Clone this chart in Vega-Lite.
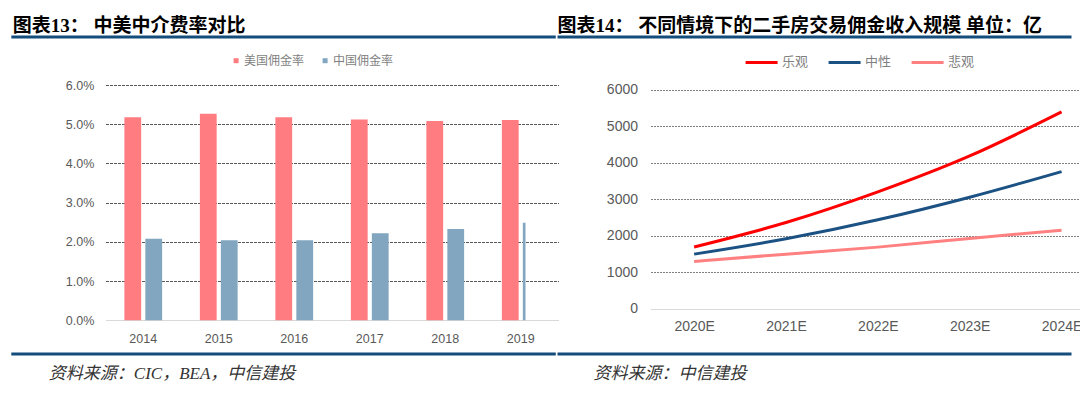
{
  "$schema": "https://vega.github.io/schema/vega-lite/v6.json",
  "background": "white",
  "padding": {"left": 9.5, "top": 16.5, "right": 0, "bottom": 0},
  "config": {"view": {"stroke": null}, "font": "Liberation Sans, Noto Sans CJK SC"},
  "spacing": 2.5,
  "resolve": {"scale": {"color": "independent", "x": "independent", "y": "independent"}, "legend": {"color": "independent"}},
  "vconcat": [
    {
      "spacing": -6,
      "resolve": {"scale": {"x": "independent"}},
      "hconcat": [
        {
          "width": 450.3, "height": 3,
          "data": {"values": [{"a0": 0, "a1": 1}]},
          "mark": {"type": "rule", "color": "#134D7C", "strokeWidth": 3},
          "encoding": {
            "x": {"field": "a0", "type": "quantitative", "scale": {"domain": [0, 1], "range": [-94.2, 450.3]}, "axis": null},
            "x2": {"field": "a1"}
          },
          "title": {"text": "图表13：  中美中介费率对比", "anchor": "start", "frame": "group", "orient": "top", "fontSize": 19, "font": "Liberation Serif, Noto Sans CJK SC", "fontWeight": "bold", "color": "#000000", "offset": 0, "dx": -92.7}
        },
        {
          "width": 514, "height": 3,
          "data": {"values": [{"b0": 0, "b1": 1}]},
          "mark": {"type": "rule", "color": "#134D7C", "strokeWidth": 3},
          "encoding": {
            "x": {"field": "b0", "type": "quantitative", "scale": {"domain": [0, 1], "range": [0, 514]}, "axis": null},
            "x2": {"field": "b1"}
          },
          "title": {"text": "图表14：  不同情境下的二手房交易佣金收入规模 单位：亿", "anchor": "start", "frame": "group", "orient": "top", "fontSize": 19, "font": "Liberation Serif, Noto Sans CJK SC", "fontWeight": "bold", "color": "#000000", "offset": 0}
        }
      ]
    },
    {
      "spacing": 0,
      "resolve": {"scale": {"color": "independent", "x": "independent", "y": "independent"}, "legend": {"color": "independent"}},
      "hconcat": [
        {
          "width": 420, "height": 235.4,
          "data": {"values": [
            {"year": "2014", "series": "美国佣金率", "rate": 0.0518},
            {"year": "2014", "series": "中国佣金率", "rate": 0.0208},
            {"year": "2015", "series": "美国佣金率", "rate": 0.0527},
            {"year": "2015", "series": "中国佣金率", "rate": 0.0204},
            {"year": "2016", "series": "美国佣金率", "rate": 0.0518},
            {"year": "2016", "series": "中国佣金率", "rate": 0.0204},
            {"year": "2017", "series": "美国佣金率", "rate": 0.0512},
            {"year": "2017", "series": "中国佣金率", "rate": 0.0222},
            {"year": "2018", "series": "美国佣金率", "rate": 0.0508},
            {"year": "2018", "series": "中国佣金率", "rate": 0.0233},
            {"year": "2019", "series": "美国佣金率", "rate": 0.0511},
            {"year": "2019", "series": "中国佣金率", "rate": 0.0249}
          ]},
          "mark": {"type": "bar", "clip": true},
          "encoding": {
            "x": {
              "field": "year", "type": "nominal",
              "scale": {"range": [0, 453], "paddingInner": 0, "paddingOuter": 0},
              "axis": {"title": null, "ticks": false, "domain": false, "grid": false, "labelAngle": 0, "labelFontSize": 12.5, "labelColor": "#595959", "labelPadding": 12, "labelFont": "Liberation Sans", "minExtent": 28.8}
            },
            "xOffset": {
              "field": "series", "sort": ["美国佣金率", "中国佣金率"],
              "scale": {"paddingInner": 0.2, "paddingOuter": 0.9}
            },
            "y": {
              "field": "rate", "type": "quantitative",
              "scale": {"domain": [0, 0.06]},
              "axis": {
                "title": null, "values": [0, 0.01, 0.02, 0.03, 0.04, 0.05, 0.06], "format": ".1%",
                "ticks": false, "domain": false, "labelFontSize": 12.5, "labelColor": "#595959", "labelPadding": 11.7, "labelFont": "Liberation Sans",
                "minExtent": 94.2,
                "gridColor": {"condition": {"test": "datum.value === 0", "value": "#D9D9D9"}, "value": "#595959"},
                "gridDash": {"condition": {"test": "datum.value === 0", "value": []}, "value": [3, 1]},
                "gridWidth": 1
              }
            },
            "color": {
              "field": "series", "type": "nominal",
              "scale": {"domain": ["美国佣金率", "中国佣金率"], "range": ["#FF7C80", "#82A6BF"]},
              "legend": {"orient": "none", "legendX": 124.6, "legendY": -30.3, "direction": "horizontal", "title": null, "padding": 0, "symbolType": "square", "symbolSize": 25, "symbolStrokeWidth": 0, "labelFontSize": 12, "labelColor": "#7F7F7F", "labelOffset": 2, "columnPadding": 14, "labelFont": "Liberation Sans, Noto Sans CJK SC"}
            }
          }
        },
        {
          "width": 418, "height": 223.7,
          "data": {"values": [
            {"year": "2020E", "scenario": "乐观", "value": 1690},
            {"year": "2021E", "scenario": "乐观", "value": 2360},
            {"year": "2022E", "scenario": "乐观", "value": 3200},
            {"year": "2023E", "scenario": "乐观", "value": 4185},
            {"year": "2024E", "scenario": "乐观", "value": 5390},
            {"year": "2020E", "scenario": "中性", "value": 1495},
            {"year": "2021E", "scenario": "中性", "value": 1915},
            {"year": "2022E", "scenario": "中性", "value": 2435},
            {"year": "2023E", "scenario": "中性", "value": 3055},
            {"year": "2024E", "scenario": "中性", "value": 3757},
            {"year": "2020E", "scenario": "悲观", "value": 1295},
            {"year": "2021E", "scenario": "悲观", "value": 1495},
            {"year": "2022E", "scenario": "悲观", "value": 1687},
            {"year": "2023E", "scenario": "悲观", "value": 1924},
            {"year": "2024E", "scenario": "悲观", "value": 2152}
          ]},
          "mark": {"type": "line", "interpolate": "monotone", "strokeWidth": 3},
          "encoding": {
            "x": {
              "field": "year", "type": "ordinal",
              "scale": {"type": "point", "range": [0, 454.7], "padding": 0.475},
              "axis": {"title": null, "ticks": false, "domain": false, "grid": false, "labelAngle": 0, "labelFontSize": 14, "labelColor": "#595959", "labelPadding": 10.5, "labelFont": "Liberation Sans"}
            },
            "y": {
              "field": "value", "type": "quantitative",
              "scale": {"domain": [0, 6000], "range": [223.7, 4.7]},
              "axis": {
                "title": null, "values": [0, 1000, 2000, 3000, 4000, 5000, 6000], "format": "d",
                "ticks": false, "domain": false, "labelFontSize": 14, "labelColor": "#595959", "labelPadding": 13, "labelFont": "Liberation Sans",
                "minExtent": 92,
                "gridColor": {"condition": {"test": "datum.value === 0", "value": "#D9D9D9"}, "value": "#7F7F7F"},
                "gridDash": {"condition": {"test": "datum.value === 0", "value": []}, "value": [2, 1]},
                "gridWidth": 1
              }
            },
            "color": {
              "field": "scenario", "type": "nominal",
              "scale": {"domain": ["乐观", "中性", "悲观"], "range": ["#FF0000", "#1B5283", "#FF8080"]},
              "legend": {"orient": "none", "legendX": 90.1, "legendY": -43.8, "direction": "horizontal", "title": null, "padding": 3.5, "symbolType": "stroke", "symbolSize": 1024, "symbolStrokeWidth": 3, "labelFontSize": 13, "labelColor": "#7F7F7F", "labelOffset": 3, "columnPadding": 13, "labelFont": "Liberation Sans, Noto Sans CJK SC"}
            }
          }
        }
      ]
    },
    {
      "spacing": -6,
      "resolve": {"scale": {"x": "independent"}},
      "hconcat": [
        {
          "width": 450.3, "height": 3,
          "data": {"values": [{"c0": 0, "c1": 1}]},
          "mark": {"type": "rule", "color": "#134D7C", "strokeWidth": 3},
          "encoding": {
            "x": {"field": "c0", "type": "quantitative", "scale": {"domain": [0, 1], "range": [-94.2, 450.3]}, "axis": null},
            "x2": {"field": "c1"}
          },
          "title": {"text": "资料来源：CIC，BEA，中信建投", "anchor": "start", "frame": "group", "orient": "bottom", "fontSize": 17, "font": "Liberation Serif, Noto Sans CJK SC", "fontStyle": "italic", "fontWeight": "normal", "color": "#333333", "offset": 10.5, "dx": -56.7}
        },
        {
          "width": 514, "height": 3,
          "data": {"values": [{"d0": 0, "d1": 1}]},
          "mark": {"type": "rule", "color": "#134D7C", "strokeWidth": 3},
          "encoding": {
            "x": {"field": "d0", "type": "quantitative", "scale": {"domain": [0, 1], "range": [0, 514]}, "axis": null},
            "x2": {"field": "d1"}
          },
          "title": {"text": "资料来源：中信建投", "anchor": "start", "frame": "group", "orient": "bottom", "fontSize": 17, "font": "Liberation Serif, Noto Sans CJK SC", "fontStyle": "italic", "fontWeight": "normal", "color": "#333333", "offset": 10.5, "dx": 36}
        }
      ]
    }
  ]
}
